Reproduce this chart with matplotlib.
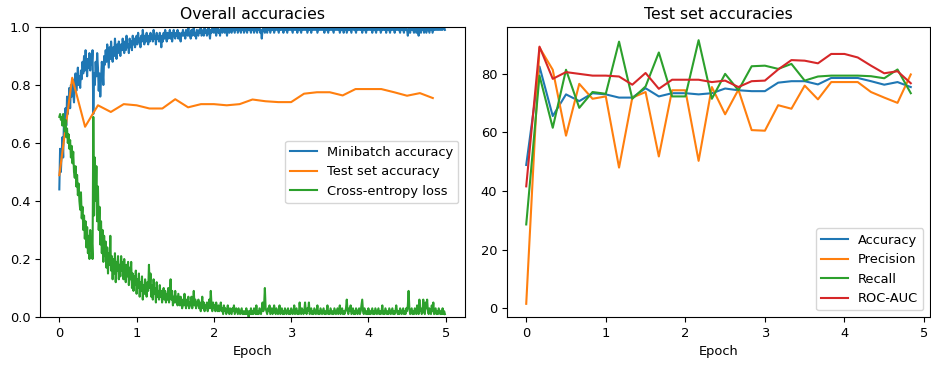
import numpy as np
import matplotlib
matplotlib.use("Agg")
import matplotlib.pyplot as plt

plt.rcParams['font.family'] = ['DejaVu Sans']
plt.rcParams['font.size'] = 9.4

# ---------------- data ----------------
iters_per_epoch = 100

minibatch_accuracy = [
    0.44, 0.58, 0.50, 0.56, 0.62, 0.55, 0.68, 0.63, 0.72, 0.66,
    0.76, 0.70, 0.74, 0.79, 0.72, 0.80, 0.76, 0.82, 0.77, 0.74,
    0.80, 0.84, 0.78, 0.82, 0.86, 0.80, 0.83, 0.79, 0.85, 0.82,
    0.88, 0.84, 0.90, 0.85, 0.92, 0.87, 0.83, 0.89, 0.86, 0.91,
    0.85, 0.90, 0.87, 0.92, 0.70, 0.84, 0.80, 0.88, 0.83, 0.91,
    0.86, 0.78, 0.84, 0.76, 0.82, 0.88, 0.85, 0.80, 0.90, 0.87,
    0.92, 0.88, 0.94, 0.90, 0.86, 0.93, 0.89, 0.95, 0.91, 0.88,
    0.93, 0.90, 0.96, 0.92, 0.89, 0.94, 0.91, 0.95, 0.93, 0.90,
    0.94, 0.92, 0.96, 0.93, 0.91, 0.95, 0.92, 0.97, 0.93, 0.94,
    0.91, 0.96, 0.93, 0.95, 0.92, 0.97, 0.94, 0.96, 0.93, 0.95,
    0.97, 0.94, 0.98, 0.95, 0.96, 0.93, 0.97, 0.95, 0.99, 0.96,
    0.94, 0.97, 0.95, 0.98, 0.96, 0.94, 0.97, 0.95, 0.98, 0.96,
    0.97, 0.95, 0.99, 0.96, 0.97, 0.94, 0.98, 0.96, 0.97, 0.95,
    0.98, 0.96, 0.93, 0.97, 0.95, 0.98, 0.96, 0.99, 0.97, 0.95,
    0.98, 0.96, 0.97, 0.99, 0.96, 0.98, 0.95, 0.97, 0.99, 0.97,
    0.96, 0.98, 0.97, 0.99, 0.96, 0.98, 0.97, 0.95, 0.98, 0.97,
    0.99, 0.97, 0.98, 0.96, 0.99, 0.98, 0.97, 1.00, 0.97, 0.98,
    0.96, 0.99, 0.97, 0.98, 1.00, 0.97, 0.98, 0.96, 0.99, 0.98,
    0.97, 0.99, 0.98, 1.00, 0.97, 0.98, 0.99, 0.97, 1.00, 0.98,
    0.99, 0.97, 0.98, 1.00, 0.98, 0.96, 0.99, 0.98, 1.00, 0.99,
    0.98, 1.00, 0.99, 0.97, 0.99, 1.00, 0.98, 0.99, 0.97, 1.00,
    0.99, 0.98, 1.00, 0.99, 0.98, 1.00, 0.99, 0.97, 0.99, 1.00,
    0.98, 0.99, 1.00, 0.98, 0.99, 1.00, 0.99, 0.98, 1.00, 0.99,
    1.00, 0.98, 0.99, 1.00, 0.99, 0.98, 1.00, 0.99, 1.00, 0.98,
    0.99, 1.00, 0.99, 0.98, 1.00, 0.99, 1.00, 0.99, 0.98, 1.00,
    0.99, 1.00, 0.98, 0.99, 1.00, 0.99, 0.98, 1.00, 0.99, 1.00,
    0.98, 0.99, 0.96, 0.99, 1.00, 0.99, 0.98, 1.00, 0.99, 0.98,
    1.00, 0.99, 1.00, 0.98, 0.99, 1.00, 0.99, 1.00, 0.98, 0.99,
    1.00, 0.99, 1.00, 0.99, 0.98, 1.00, 0.99, 1.00, 0.99, 1.00,
    0.98, 1.00, 0.99, 1.00, 0.99, 0.98, 1.00, 0.99, 1.00, 0.99,
    1.00, 0.99, 0.98, 1.00, 0.99, 1.00, 0.99, 1.00, 0.98, 1.00,
    0.99, 1.00, 0.99, 0.98, 1.00, 0.99, 1.00, 0.99, 1.00, 0.99,
    1.00, 0.98, 0.99, 1.00, 0.99, 1.00, 0.98, 1.00, 0.99, 1.00,
    0.99, 1.00, 0.99, 1.00, 0.98, 0.99, 1.00, 0.99, 1.00, 0.99,
    1.00, 0.99, 1.00, 0.98, 1.00, 0.99, 1.00, 0.99, 0.98, 1.00,
    0.99, 1.00, 0.99, 1.00, 0.99, 0.98, 1.00, 0.99, 1.00, 0.99,
    1.00, 0.99, 1.00, 0.98, 0.99, 1.00, 0.99, 1.00, 0.98, 1.00,
    0.99, 1.00, 0.98, 0.99, 1.00, 0.99, 1.00, 0.99, 0.98, 1.00,
    1.00, 0.99, 1.00, 0.99, 0.98, 1.00, 0.99, 1.00, 0.99, 1.00,
    0.99, 1.00, 0.98, 1.00, 0.99, 1.00, 0.99, 0.98, 1.00, 0.99,
    1.00, 0.99, 1.00, 0.99, 1.00, 0.98, 1.00, 0.99, 1.00, 0.99,
    0.98, 1.00, 0.99, 1.00, 0.99, 1.00, 0.98, 0.99, 1.00, 0.99,
    1.00, 0.99, 1.00, 0.98, 1.00, 0.99, 1.00, 0.99, 0.98, 1.00,
    0.99, 1.00, 0.99, 1.00, 0.98, 1.00, 0.99, 1.00, 0.99, 1.00,
    0.99, 0.98, 1.00, 0.99, 1.00, 0.99, 0.98, 1.00, 0.99, 1.00,
    0.99, 0.97, 0.99, 1.00, 0.98, 1.00, 0.99, 1.00, 0.99, 0.98,
    1.00, 0.99, 0.98, 1.00, 0.99, 0.97, 1.00, 0.99, 0.98, 1.00,
    0.99, 1.00, 0.98, 0.99, 1.00, 0.98, 0.99, 1.00, 0.99, 0.98,
    1.00, 0.99, 1.00, 0.98, 0.99, 1.00, 0.99, 1.00, 0.99, 1.00,
    0.99, 1.00, 0.99, 1.00, 0.99, 1.00, 0.99, 1.00, 1.00, 0.99,
]

cross_entropy_loss = [
    0.69, 0.70, 0.68, 0.69, 0.66, 0.70, 0.67, 0.64, 0.68, 0.62,
    0.65, 0.60, 0.63, 0.58, 0.61, 0.55, 0.59, 0.53, 0.57, 0.50,
    0.48, 0.52, 0.45, 0.49, 0.42, 0.46, 0.40, 0.37, 0.43, 0.34,
    0.38, 0.30, 0.35, 0.27, 0.33, 0.24, 0.31, 0.22, 0.28, 0.20,
    0.30, 0.23, 0.27, 0.20, 0.69, 0.35, 0.55, 0.40, 0.52, 0.33,
    0.45, 0.30, 0.38, 0.25, 0.33, 0.22, 0.30, 0.19, 0.28, 0.21,
    0.26, 0.17, 0.24, 0.15, 0.22, 0.18, 0.28, 0.16, 0.21, 0.13,
    0.20, 0.15, 0.22, 0.12, 0.19, 0.16, 0.21, 0.13, 0.18, 0.14,
    0.21, 0.16, 0.19, 0.13, 0.20, 0.15, 0.12, 0.18, 0.14, 0.19,
    0.11, 0.17, 0.13, 0.19, 0.10, 0.15, 0.09, 0.14, 0.11, 0.16,
    0.08, 0.13, 0.10, 0.15, 0.07, 0.12, 0.09, 0.14, 0.06, 0.11,
    0.08, 0.13, 0.10, 0.07, 0.12, 0.09, 0.18, 0.10, 0.15, 0.07,
    0.11, 0.06, 0.13, 0.08, 0.10, 0.05, 0.12, 0.07, 0.09, 0.06,
    0.11, 0.07, 0.09, 0.05, 0.08, 0.10, 0.06, 0.09, 0.05, 0.08,
    0.06, 0.10, 0.05, 0.08, 0.13, 0.06, 0.09, 0.04, 0.07, 0.05,
    0.09, 0.05, 0.07, 0.04, 0.08, 0.06, 0.04, 0.07, 0.05, 0.03,
    0.06, 0.04, 0.08, 0.05, 0.03, 0.06, 0.04, 0.07, 0.03, 0.05,
    0.04, 0.07, 0.03, 0.05, 0.09, 0.04, 0.06, 0.03, 0.05, 0.04,
    0.06, 0.03, 0.05, 0.02, 0.04, 0.07, 0.03, 0.05, 0.02, 0.04,
    0.03, 0.05, 0.02, 0.04, 0.06, 0.03, 0.09, 0.04, 0.02, 0.05,
    0.03, 0.04, 0.02, 0.05, 0.03, 0.02, 0.04, 0.02, 0.03, 0.05,
    0.02, 0.03, 0.01, 0.04, 0.02, 0.03, 0.01, 0.02, 0.04, 0.02,
    0.01, 0.03, 0.02, 0.01, 0.03, 0.02, 0.04, 0.01, 0.02, 0.03,
    0.02, 0.01, 0.03, 0.02, 0.01, 0.02, 0.03, 0.01, 0.02, 0.01,
    0.02, 0.01, 0.03, 0.01, 0.02, 0.00, 0.02, 0.01, 0.03, 0.01,
    0.02, 0.01, 0.03, 0.02, 0.01, 0.04, 0.01, 0.02, 0.01, 0.03,
    0.02, 0.01, 0.03, 0.05, 0.02, 0.04, 0.10, 0.03, 0.02, 0.01,
    0.03, 0.02, 0.04, 0.01, 0.02, 0.03, 0.01, 0.02, 0.04, 0.02,
    0.01, 0.03, 0.02, 0.01, 0.02, 0.04, 0.01, 0.02, 0.03, 0.01,
    0.02, 0.01, 0.03, 0.02, 0.01, 0.02, 0.03, 0.01, 0.02, 0.01,
    0.03, 0.02, 0.01, 0.02, 0.04, 0.01, 0.02, 0.03, 0.01, 0.02,
    0.01, 0.05, 0.02, 0.01, 0.03, 0.02, 0.01, 0.02, 0.05, 0.02,
    0.01, 0.03, 0.02, 0.05, 0.01, 0.02, 0.03, 0.01, 0.02, 0.01,
    0.03, 0.02, 0.01, 0.02, 0.04, 0.01, 0.02, 0.01, 0.03, 0.02,
    0.01, 0.02, 0.03, 0.01, 0.02, 0.01, 0.02, 0.04, 0.01, 0.02,
    0.01, 0.03, 0.02, 0.01, 0.02, 0.01, 0.03, 0.02, 0.01, 0.02,
    0.03, 0.01, 0.02, 0.04, 0.01, 0.02, 0.03, 0.01, 0.02, 0.01,
    0.02, 0.03, 0.06, 0.02, 0.01, 0.03, 0.02, 0.04, 0.01, 0.02,
    0.03, 0.01, 0.02, 0.01, 0.03, 0.02, 0.01, 0.02, 0.03, 0.01,
    0.02, 0.04, 0.06, 0.02, 0.01, 0.03, 0.02, 0.01, 0.02, 0.01,
    0.03, 0.01, 0.02, 0.01, 0.02, 0.03, 0.01, 0.02, 0.01, 0.03,
    0.02, 0.01, 0.02, 0.03, 0.01, 0.02, 0.01, 0.02, 0.04, 0.01,
    0.02, 0.01, 0.03, 0.02, 0.01, 0.02, 0.01, 0.03, 0.02, 0.01,
    0.02, 0.03, 0.01, 0.02, 0.01, 0.02, 0.04, 0.02, 0.01, 0.02,
    0.01, 0.03, 0.02, 0.01, 0.02, 0.03, 0.01, 0.02, 0.01, 0.03,
    0.02, 0.04, 0.09, 0.03, 0.01, 0.02, 0.03, 0.01, 0.02, 0.01,
    0.03, 0.02, 0.01, 0.04, 0.02, 0.01, 0.06, 0.02, 0.03, 0.01,
    0.02, 0.06, 0.02, 0.01, 0.05, 0.03, 0.06, 0.02, 0.01, 0.03,
    0.02, 0.01, 0.04, 0.02, 0.05, 0.01, 0.02, 0.03, 0.01, 0.02,
    0.01, 0.03, 0.02, 0.01, 0.02, 0.01, 0.03, 0.01, 0.02, 0.01,
]

# test evaluations, every 1/6 epoch
evals_per_epoch = 6
accuracy = [48.9, 82.5, 65.6, 73.0, 70.7, 73.4, 73.0, 71.9, 71.9, 75.1,
            72.3, 73.4, 73.4, 73.0, 73.4, 75.0, 74.4, 74.1, 74.1, 77.0,
            77.5, 77.5, 76.4, 78.6, 78.6, 78.6, 77.5, 76.3, 77.2, 75.5]
precision = [1.5, 89.0, 81.4, 58.9, 76.6, 71.5, 72.3, 48.0, 71.9, 73.8,
             51.8, 74.4, 74.4, 50.3, 75.5, 66.2, 74.6, 60.8, 60.6, 69.3,
             68.1, 76.0, 71.3, 77.2, 77.2, 77.2, 73.8, 71.9, 70.1, 79.8]
recall = [28.6, 79.4, 61.6, 81.4, 68.4, 73.8, 73.2, 91.0, 71.5, 75.7,
          87.3, 72.3, 72.3, 91.5, 71.5, 80.0, 74.4, 82.6, 82.8, 81.7,
          83.4, 77.7, 79.1, 79.4, 79.4, 79.4, 79.2, 78.5, 81.5, 73.4]
roc_auc = [41.6, 89.3, 78.3, 80.6, 80.0, 79.4, 79.4, 79.1, 76.3, 80.3,
           74.9, 78.0, 78.0, 78.0, 77.2, 77.7, 75.5, 77.5, 77.7, 81.5,
           84.7, 84.5, 83.6, 86.8, 86.8, 85.6, 82.8, 80.2, 80.9, 76.8]

# ---------------- plot ----------------
train_epoch = np.arange(len(minibatch_accuracy)) / iters_per_epoch
test_epoch = np.arange(len(accuracy)) / evals_per_epoch

W, H = 931, 366
fig = plt.figure(figsize=(W / 100, H / 100), dpi=100)
ax1 = fig.add_axes([40 / W, (H - 317) / H, 425 / W, 290 / H])
ax2 = fig.add_axes([507 / W, (H - 317) / H, 423 / W, 290 / H])

ax1.plot(train_epoch, minibatch_accuracy, label='Minibatch accuracy')
ax1.plot(test_epoch, np.array(accuracy) / 100, label='Test set accuracy')
ax1.plot(train_epoch, cross_entropy_loss, label='Cross-entropy loss')
ax1.set_ylim(0, 1)
ax1.set_xlim(-0.25, 5.25)
ax1.set_title('Overall accuracies')
ax1.set_xlabel('Epoch')
ax1.legend(loc='center right')

ax2.plot(test_epoch, accuracy, label='Accuracy')
ax2.plot(test_epoch, precision, label='Precision')
ax2.plot(test_epoch, recall, label='Recall')
ax2.plot(test_epoch, roc_auc, label='ROC-AUC')
ax2.set_xticks([0, 1, 2, 3, 4, 5])
ax2.set_title('Test set accuracies')
ax2.set_xlabel('Epoch')
ax2.legend(loc='lower right')

fig.savefig('out.png', dpi=100)
